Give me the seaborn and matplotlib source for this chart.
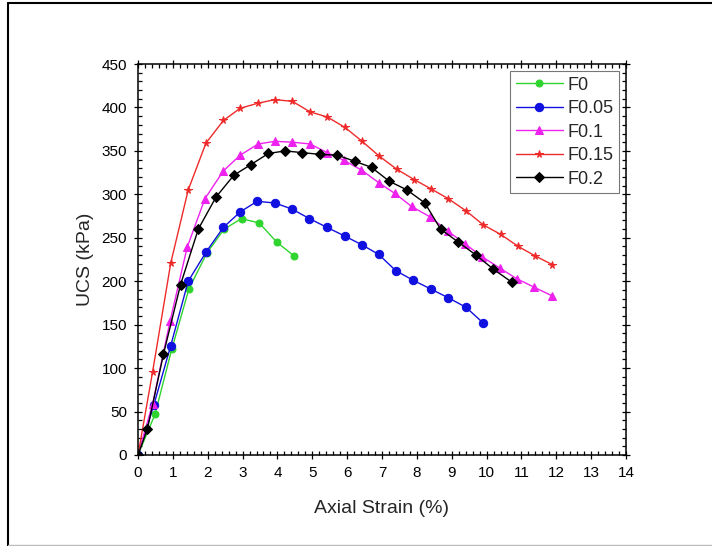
import matplotlib
matplotlib.use("Agg")
import matplotlib.pyplot as plt
from matplotlib.lines import Line2D
from matplotlib.ticker import MultipleLocator
import numpy as np
import pandas as pd
import seaborn as sns

# Stress-strain curves for each fibre content
strain_f0 = [0, 0.49, 0.97, 1.46, 1.97, 2.47, 2.97, 3.48, 3.98, 4.48]
ucs_f0 = [0, 47, 122, 191, 232, 260, 272, 267, 245, 229]

strain_f005 = [0, 0.45, 0.94, 1.44, 1.96, 2.45, 2.94, 3.42, 3.93, 4.42, 4.92,
               5.42, 5.93, 6.42, 6.90, 7.40, 7.90, 8.40, 8.90, 9.41, 9.90]
ucs_f005 = [0, 57, 126, 200, 234, 262, 280, 292, 290, 283, 272,
            262, 252, 242, 231, 212, 201, 191, 181, 170, 152]

strain_f01 = [0, 0.42, 0.92, 1.41, 1.92, 2.45, 2.93, 3.45, 3.93, 4.43, 4.93,
              5.43, 5.91, 6.41, 6.92, 7.37, 7.85, 8.38, 8.88, 9.38, 9.88,
              10.38, 10.86, 11.37, 11.89]
ucs_f01 = [0, 59, 154, 239, 295, 327, 345, 358, 361, 360, 358,
           348, 339, 328, 313, 301, 286, 274, 258, 243, 228,
           215, 203, 193, 183]

strain_f015 = [0, 0.42, 0.94, 1.44, 1.95, 2.45, 2.93, 3.45, 3.93, 4.43, 4.93,
               5.43, 5.94, 6.43, 6.92, 7.42, 7.92, 8.42, 8.90, 9.41, 9.90,
               10.40, 10.91, 11.40, 11.89]
ucs_f015 = [0, 96, 221, 305, 359, 385, 399, 405, 409, 407, 395,
            389, 377, 361, 344, 329, 317, 306, 295, 281, 265,
            254, 240, 229, 219]

strain_f02 = [0, 0.27, 0.73, 1.22, 1.73, 2.24, 2.75, 3.23, 3.74, 4.22, 4.71,
              5.22, 5.72, 6.22, 6.70, 7.21, 7.72, 8.23, 8.68, 9.19, 9.70,
              10.19, 10.72]
ucs_f02 = [0, 30, 116, 196, 260, 297, 322, 334, 347, 350, 348,
           346, 345, 338, 331, 315, 305, 290, 260, 245, 230,
           214, 199]

series_names = ["F0", "F0.05", "F0.1", "F0.15", "F0.2"]
series_strain = [strain_f0, strain_f005, strain_f01, strain_f015, strain_f02]
series_ucs = [ucs_f0, ucs_f005, ucs_f01, ucs_f015, ucs_f02]

frames = [pd.DataFrame({"strain": s, "ucs": u, "mix": n})
          for n, s, u in zip(series_names, series_strain, series_ucs)]
df = pd.concat(frames, ignore_index=True)

styles = {
    "F0":    dict(color="#2fd42f", marker="o", markersize=5.0),
    "F0.05": dict(color="#1010e0", marker="o", markersize=6.0),
    "F0.1":  dict(color="#ee22ee", marker="^", markersize=6.0),
    "F0.15": dict(color="#ee2a2a", marker="*", markersize=5.5),
    "F0.2":  dict(color="#000000", marker="D", markersize=5.0),
}

sns.set_style("ticks")
plt.rcParams["font.family"] = ["Liberation Sans", "DejaVu Sans"]

fig = plt.figure(figsize=(7.12, 5.46), dpi=100)
ax = fig.add_axes([138 / 712, 1 - 455 / 546, (626 - 138) / 712, (455 - 64) / 546])

for name in series_names:
    st = styles[name]
    sns.lineplot(data=df[df["mix"] == name], x="strain", y="ucs", ax=ax,
                 sort=False, estimator=None, color=st["color"],
                 marker=st["marker"], markersize=st["markersize"],
                 markeredgecolor=st["color"], linewidth=1.0, label=name)

ax.set_xlim(0, 14)
ax.set_ylim(0, 450)
ax.xaxis.set_major_locator(MultipleLocator(1))
ax.xaxis.set_minor_locator(MultipleLocator(0.2))
ax.yaxis.set_major_locator(MultipleLocator(50))
ax.yaxis.set_minor_locator(MultipleLocator(10))
ax.tick_params(which="both", top=True, right=True, direction="inout",
               labelsize=11, colors="black", width=0.9)
ax.tick_params(which="major", length=6, pad=5)
ax.tick_params(which="minor", length=3, direction="in")
for sp in ax.spines.values():
    sp.set_linewidth(1.1)
    sp.set_color("black")

ax.set_xlabel("Axial Strain (%)", fontsize=14, labelpad=14)
ax.set_ylabel("UCS (kPa)", fontsize=14, labelpad=5)

leg = ax.legend(loc="upper right", fontsize=13, handlelength=2.6,
                handletextpad=0.25, borderpad=0.3, labelspacing=0.36,
                frameon=True, fancybox=False, borderaxespad=0.4)
leg.get_frame().set_edgecolor("#555555")
leg.get_frame().set_linewidth(0.8)

# Outer frame around the figure
fig.add_artist(Line2D([8 / 712, 8 / 712], [0, 1 - 3 / 546], color="black", lw=1.5))
fig.add_artist(Line2D([8 / 712, 1], [1 - 3 / 546, 1 - 3 / 546], color="black", lw=1.5))
fig.add_artist(Line2D([8 / 712, 1], [1 / 546, 1 / 546], color="#bbbbbb", lw=1.0))

fig.savefig("out.png", dpi=100)
